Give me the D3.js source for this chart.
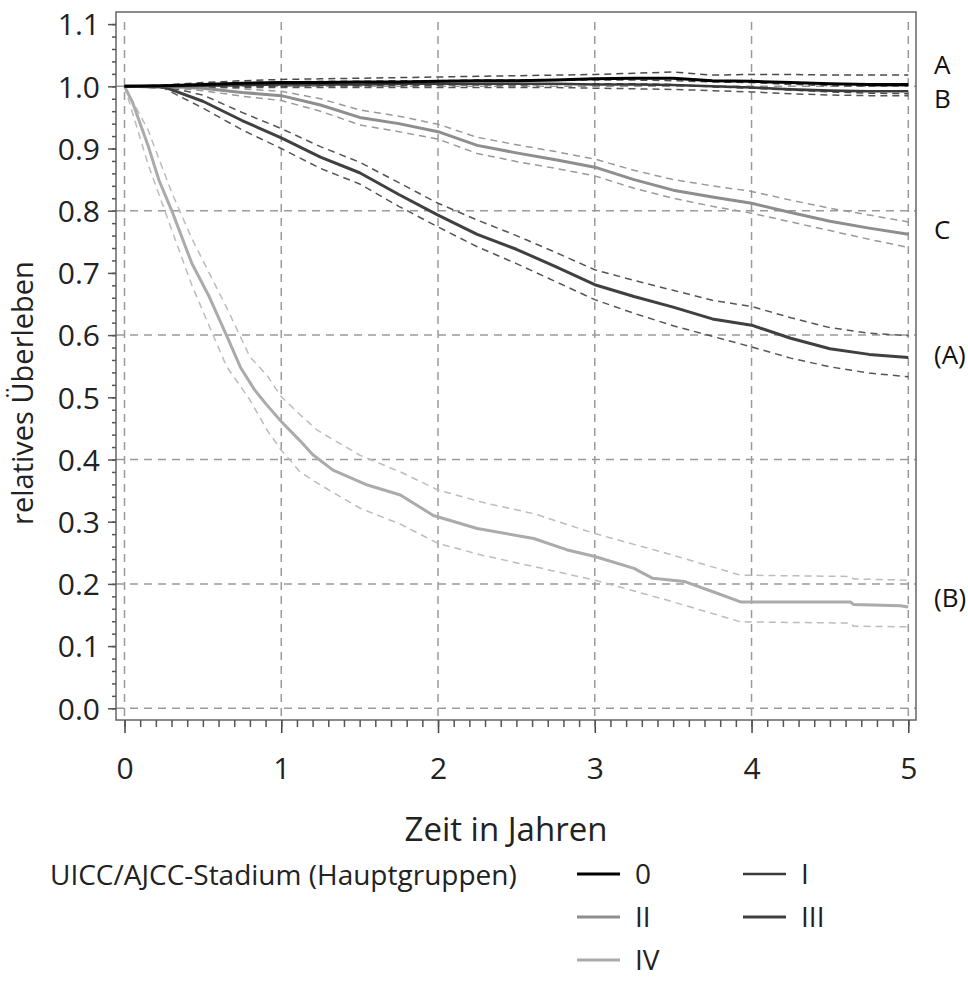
<!DOCTYPE html>
<html>
<head>
<meta charset="utf-8">
<script src="https://cdn.jsdelivr.net/npm/d3@7"></script>
<style>
  body { margin: 0; background: #fff; }
  svg { display: block; font-family: 'Open Sans', sans-serif; }
</style>
</head>
<body>
<svg id="chart" width="968" height="983"></svg>
<script>
// time grid (years) shared by stages 0, I, II, III
const tGrid = [0, 0.25, 0.5, 0.75, 1, 1.25, 1.5, 1.75, 2, 2.25, 2.5, 2.75, 3, 3.25, 3.5, 3.75, 4, 4.25, 4.5, 4.75, 5];

const s0 = [1.0, 1.001, 1.003, 1.005, 1.006, 1.006, 1.007, 1.007, 1.008, 1.009, 1.009, 1.01, 1.012, 1.013, 1.013, 1.009, 1.008, 1.006, 1.004, 1.003, 1.003];
const s0Hi = [1.0, 1.002, 1.006, 1.009, 1.011, 1.012, 1.013, 1.014, 1.015, 1.016, 1.017, 1.018, 1.019, 1.021, 1.023, 1.018, 1.019, 1.019, 1.018, 1.018, 1.018];
const s0Lo = [1.0, 0.999, 0.999, 1.0, 1.0, 1.001, 1.001, 1.001, 1.002, 1.002, 1.002, 1.003, 1.004, 1.004, 1.003, 0.999, 0.997, 0.994, 0.991, 0.989, 0.988];

const s1 = [1.0, 1.0, 1.001, 1.002, 1.003, 1.003, 1.003, 1.004, 1.004, 1.004, 1.004, 1.004, 1.003, 1.003, 1.002, 1.0, 0.998, 0.995, 0.993, 0.992, 0.992];
const s1Hi = [1.0, 1.001, 1.004, 1.006, 1.007, 1.008, 1.008, 1.009, 1.009, 1.01, 1.01, 1.01, 1.01, 1.01, 1.009, 1.007, 1.006, 1.003, 1.001, 1.0, 1.0];
const s1Lo = [1.0, 0.999, 0.998, 0.998, 0.998, 0.998, 0.998, 0.998, 0.998, 0.998, 0.998, 0.998, 0.997, 0.996, 0.995, 0.993, 0.991, 0.988, 0.986, 0.985, 0.985];

const s2 = [1.0, 1.0, 0.997, 0.99, 0.985, 0.97, 0.95, 0.94, 0.927, 0.905, 0.893, 0.882, 0.87, 0.85, 0.833, 0.822, 0.812, 0.797, 0.783, 0.772, 0.762];
const s2Hi = [1.0, 1.0, 1.0, 0.996, 0.992, 0.98, 0.962, 0.952, 0.939, 0.918, 0.906, 0.895, 0.883, 0.865, 0.85, 0.84, 0.831, 0.817, 0.804, 0.793, 0.782];
const s2Lo = [1.0, 0.999, 0.993, 0.984, 0.977, 0.96, 0.938, 0.927, 0.915, 0.892, 0.879, 0.868, 0.856, 0.836, 0.82, 0.807, 0.796, 0.782, 0.768, 0.754, 0.741];

const s3 = [1.0, 0.999, 0.976, 0.945, 0.917, 0.886, 0.861, 0.826, 0.793, 0.762, 0.738, 0.71, 0.681, 0.662, 0.645, 0.626, 0.616, 0.595, 0.578, 0.569, 0.564];
const s3Hi = [1.0, 1.0, 0.986, 0.958, 0.932, 0.903, 0.878, 0.845, 0.812, 0.785, 0.76, 0.733, 0.705, 0.688, 0.672, 0.656, 0.646, 0.628, 0.612, 0.603, 0.599];
const s3Lo = [1.0, 0.997, 0.965, 0.93, 0.9, 0.868, 0.843, 0.807, 0.774, 0.742, 0.715, 0.686, 0.657, 0.635, 0.615, 0.598, 0.581, 0.563, 0.549, 0.539, 0.533];

// stage IV has its own time points
const t4 = [0, 0.05, 0.15, 0.22, 0.3, 0.43, 0.54, 0.65, 0.74, 0.83, 0.91, 1.0, 1.12, 1.2, 1.33, 1.55, 1.76, 1.97, 2.25, 2.61, 2.82, 3.0, 3.25, 3.37, 3.57, 3.78, 3.93, 4.63, 4.65, 4.95, 5.0];
const s4 = [1.0, 0.975, 0.905, 0.849, 0.801, 0.715, 0.662, 0.6, 0.548, 0.512, 0.487, 0.461, 0.43, 0.408, 0.383, 0.359, 0.343, 0.31, 0.289, 0.273, 0.255, 0.244, 0.225, 0.209, 0.204, 0.185, 0.171, 0.171, 0.167, 0.165, 0.163];
const t4ci = [0, 0.15, 0.3, 0.43, 0.54, 0.65, 0.8, 0.91, 1.0, 1.12, 1.23, 1.5, 1.76, 2.0, 2.3, 2.61, 3.0, 3.46, 3.93, 4.63, 4.65, 5.0];
const s4Hi = [1.0, 0.93, 0.83, 0.755, 0.7, 0.645, 0.565, 0.535, 0.501, 0.472, 0.447, 0.407, 0.38, 0.351, 0.33, 0.313, 0.281, 0.249, 0.214, 0.212, 0.208, 0.206];
const s4Lo = [1.0, 0.875, 0.77, 0.68, 0.615, 0.55, 0.496, 0.447, 0.415, 0.38, 0.362, 0.322, 0.296, 0.265, 0.245, 0.228, 0.206, 0.174, 0.139, 0.137, 0.132, 0.131];

const stages = ['0', 'I', 'II', 'III', 'IV'];
const xTicks = [0, 1, 2, 3, 4, 5];
const yTicks = [0, 0.1, 0.2, 0.3, 0.4, 0.5, 0.6, 0.7, 0.8, 0.9, 1.0, 1.1];
const yGrid = [0, 0.2, 0.4, 0.6, 0.8, 1.0];
const sideLabels = [
  {text: 'A', v: 1.035},
  {text: 'B', v: 0.979},
  {text: 'C', v: 0.769},
  {text: '(A)', v: 0.568},
  {text: '(B)', v: 0.177}
];

const style = {
  '0': {color: '#000', width: 3, ci: '#4a4a4a'},
  'I': {color: '#3a3a3a', width: 2.6, ci: '#555'},
  'II': {color: '#8e8e8e', width: 3, ci: '#9a9a9a'},
  'III': {color: '#404040', width: 3, ci: '#555'},
  'IV': {color: '#ababab', width: 3, ci: '#bcbcbc'}
};

const series = [
  {stage: '0', t: tGrid, est: s0, tci: tGrid, hi: s0Hi, lo: s0Lo},
  {stage: 'I', t: tGrid, est: s1, tci: tGrid, hi: s1Hi, lo: s1Lo},
  {stage: 'II', t: tGrid, est: s2, tci: tGrid, hi: s2Hi, lo: s2Lo},
  {stage: 'III', t: tGrid, est: s3, tci: tGrid, hi: s3Hi, lo: s3Lo},
  {stage: 'IV', t: t4, est: s4, tci: t4ci, hi: s4Hi, lo: s4Lo}
];

const frame = {left: 116, right: 916, top: 12, bottom: 720};

const x = d3.scaleLinear().domain([0, 5]).range([124.5, 908.3]);
const y = d3.scaleLinear().domain([0, 1.1]).range([708.3, 24.1]);

const svg = d3.select('#chart');

// grid
const grid = svg.append('g')
  .attr('stroke', '#9a9a9a')
  .attr('stroke-width', 1.5)
  .attr('stroke-dasharray', '8,6');

grid.selectAll('.vgrid')
  .data(xTicks)
  .join('line')
  .attr('x1', (d) => x(d))
  .attr('x2', (d) => x(d))
  .attr('y1', frame.top + 10)
  .attr('y2', frame.bottom);

grid.selectAll('.hgrid')
  .data(yGrid)
  .join('line')
  .attr('x1', frame.left)
  .attr('x2', frame.right)
  .attr('y1', (d) => y(d))
  .attr('y2', (d) => y(d));

// curves
const line = (ts, vs) => d3.line()
  .x((d, i) => x(ts[i]))
  .y((d) => y(d))(vs);

const curves = svg.append('g').attr('fill', 'none');

series.slice().reverse().forEach((s) => {
  const st = style[s.stage];
  [s.hi, s.lo].forEach((band) => {
    curves.append('path')
      .attr('d', line(s.tci, band))
      .attr('stroke', st.ci)
      .attr('stroke-width', 1.5)
      .attr('stroke-dasharray', '7,5');
  });
});

series.slice().reverse().forEach((s) => {
  const st = style[s.stage];
  curves.append('path')
    .attr('d', line(s.t, s.est))
    .attr('stroke', st.color)
    .attr('stroke-width', st.width)
    .attr('stroke-linejoin', 'round');
});

// frame
svg.append('rect')
  .attr('x', frame.left)
  .attr('y', frame.top)
  .attr('width', frame.right - frame.left)
  .attr('height', frame.bottom - frame.top)
  .attr('fill', 'none')
  .attr('stroke', '#666')
  .attr('stroke-width', 1.5);

// y axis
const yAxis = svg.append('g')
  .attr('transform', `translate(${frame.left},0)`)
  .call(d3.axisLeft(y).tickValues(yTicks).tickSize(8).tickPadding(8)
    .tickFormat(d3.format('.1f')));
yAxis.select('.domain').remove();
yAxis.selectAll('.tick line').attr('stroke', '#555').attr('stroke-width', 1.5);
yAxis.selectAll('.tick text')
  .attr('fill', '#222')
  .attr('font-size', 30)
  .attr('dy', '0.36em')
  .attr('font-family', 'Open Sans');

const yMinor = svg.append('g')
  .attr('transform', `translate(${frame.left},0)`)
  .call(d3.axisLeft(y).tickValues(d3.range(0, 1.101, 0.02)).tickSize(4).tickFormat(''));
yMinor.select('.domain').remove();
yMinor.selectAll('.tick line').attr('stroke', '#555').attr('stroke-width', 1.5);

// x axis
const xAxis = svg.append('g')
  .attr('transform', `translate(0,${frame.bottom})`)
  .call(d3.axisBottom(x).tickValues(xTicks).tickSize(13).tickPadding(25)
    .tickFormat(d3.format('d')));
xAxis.select('.domain').remove();
xAxis.selectAll('.tick line').attr('stroke', '#444').attr('stroke-width', 1.5);
xAxis.selectAll('.tick text')
  .attr('fill', '#222')
  .attr('font-size', 30)
  .attr('font-family', 'Open Sans');

const xMinor = svg.append('g')
  .attr('transform', `translate(0,${frame.bottom})`)
  .call(d3.axisBottom(x).tickValues(d3.range(0, 5.001, 0.1)).tickSize(7).tickFormat(''));
xMinor.select('.domain').remove();
xMinor.selectAll('.tick line').attr('stroke', '#555').attr('stroke-width', 1.5);

// axis titles
svg.append('text')
  .attr('x', 506)
  .attr('y', 841)
  .attr('text-anchor', 'middle')
  .attr('font-size', 33)
  .attr('fill', '#222')
  .text('Zeit in Jahren');

svg.append('text')
  .attr('transform', 'translate(33,393) rotate(-90)')
  .attr('text-anchor', 'middle')
  .attr('font-size', 29)
  .attr('fill', '#222')
  .text('relatives Überleben');

// side labels
svg.selectAll('.side')
  .data(sideLabels)
  .join('text')
  .attr('x', 934)
  .attr('y', (d) => y(d.v))
  .attr('dy', '0.35em')
  .attr('font-size', 26)
  .attr('fill', '#111')
  .text((d) => d.text);

// legend
const legend = svg.append('g');
legend.append('text')
  .attr('x', 50)
  .attr('y', 875)
  .attr('dy', '0.35em')
  .attr('font-size', 28)
  .attr('fill', '#222')
  .text('UICC/AJCC-Stadium (Hauptgruppen)');

const legendPos = [
  {x: 577, y: 874}, {x: 743, y: 874},
  {x: 577, y: 917}, {x: 743, y: 917},
  {x: 577, y: 960}
];

const item = legend.selectAll('.item')
  .data(stages)
  .join('g')
  .attr('transform', (d, i) => `translate(${legendPos[i].x},${legendPos[i].y})`);

item.append('line')
  .attr('x1', 0)
  .attr('x2', 43)
  .attr('stroke', (d) => style[d].color)
  .attr('stroke-width', (d) => style[d].width);

item.append('text')
  .attr('x', 58)
  .attr('dy', '0.35em')
  .attr('font-size', 28)
  .attr('fill', '#222')
  .text((d) => d);
</script>
</body>
</html>
